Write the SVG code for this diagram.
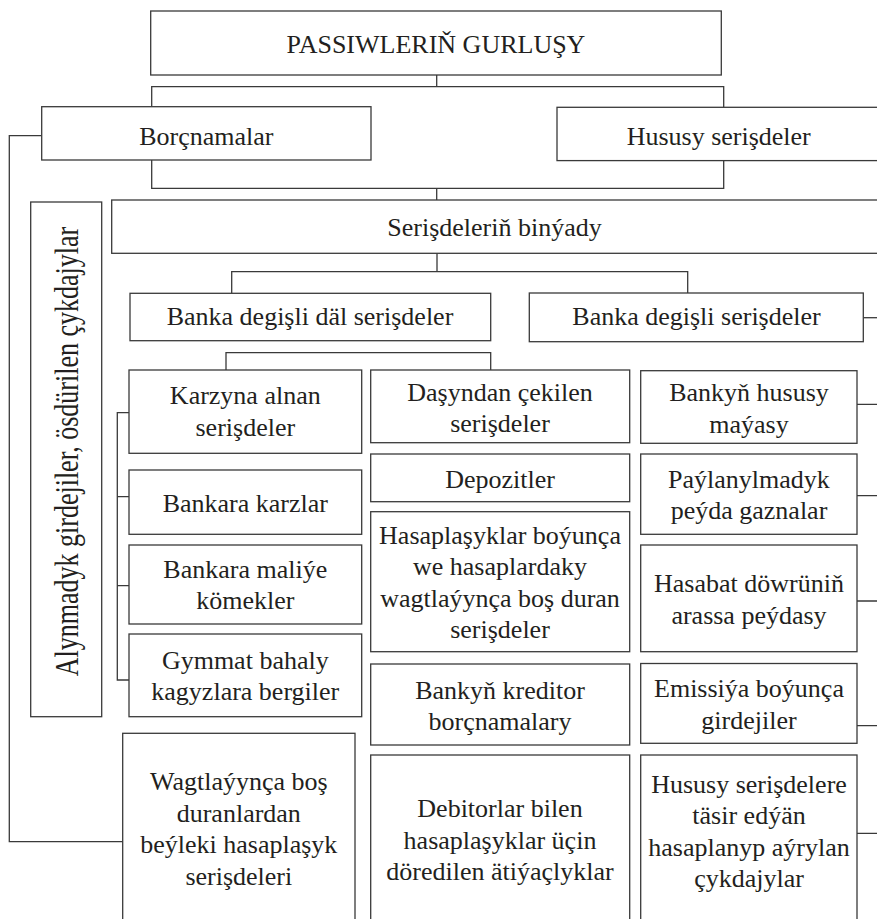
<svg xmlns="http://www.w3.org/2000/svg" width="877" height="919" viewBox="0 0 877 919">
<style>
rect{fill:#fff;stroke:#3a3a3a;stroke-width:1.3}
.c{fill:none;stroke:#3a3a3a;stroke-width:1.3}
</style>
<rect x="0" y="0" width="877" height="919" style="stroke:none"/>
<g id="connectors">
<path class="c" d="M436.7 75V86.7M151.7 106.7V86.7H723.7V107.3"/>
<path class="c" d="M151.7 160V188.3H723.7V160.7M436.7 188.3V200"/>
<path class="c" d="M437 253.3V271.7M231.7 293.3V271.7H687.7V293"/>
<path class="c" d="M226 370V352.7H490.7V370"/>
<path class="c" d="M863.3 317.7H877"/>
<path class="c" d="M857 404.3H877M857 495.7H877M857 601H877M857 725.7H877M857 833.3H877"/>
<path class="c" d="M129 412.7H117.3V680H129M117.3 496.7H129M117.3 585.7H129"/>
<path class="c" d="M41.7 135.7H9.3V841.7H122.7"/>
</g>
<g font-family="Liberation Serif" font-size="26" fill="#231f20" text-anchor="middle">
<g id="n-top"><rect x="150.7" y="11" width="570.6" height="64"/><text x="436" y="53.3">PASSIWLERIŇ GURLUŞY</text></g>
<g id="n-borc"><rect x="41.7" y="106.7" width="329.3" height="53.3"/><text x="206.3" y="145">Borçnamalar</text></g>
<g id="n-husus"><rect x="557" y="107.3" width="330" height="53.3"/><text x="718.7" y="145">Hususy serişdeler</text></g>
<g id="n-binyad"><rect x="111.7" y="200" width="775" height="53.3"/><text x="494.5" y="236">Serişdeleriň binýady</text></g>
<g id="n-alynmadyk"><rect x="30.7" y="202" width="71" height="514.7"/><text transform="translate(78.3 451.5) rotate(-90) scale(1 1.3)">Alynmadyk girdejiler, ösdürilen çykdajylar</text></g>
<g id="n-dal"><rect x="130" y="293.3" width="360.7" height="47.4"/><text x="310" y="324.5">Banka degişli däl serişdeler</text></g>
<g id="n-degisli"><rect x="529.3" y="293" width="334" height="48.7"/><text x="696.5" y="325">Banka degişli serişdeler</text></g>
<g id="n-karzyna"><rect x="129" y="370" width="232.7" height="83.3"/><text x="245.3" y="404">Karzyna alnan</text><text x="245.3" y="435.5">serişdeler</text></g>
<g id="n-karzlar"><rect x="129" y="470" width="232.7" height="64.3"/><text x="245.3" y="511.5">Bankara karzlar</text></g>
<g id="n-maliye"><rect x="129" y="545" width="232.7" height="79"/><text x="245.3" y="577.5">Bankara maliýe</text><text x="245.3" y="609">kömekler</text></g>
<g id="n-gymmat"><rect x="129" y="634" width="232.7" height="82.7"/><text x="245.3" y="668.5">Gymmat bahaly</text><text x="245.3" y="700">kagyzlara bergiler</text></g>
<g id="n-wagt"><rect x="122.7" y="733.3" width="232.3" height="200"/><text x="238.8" y="790">Wagtlaýynça boş</text><text x="238.8" y="821.5">duranlardan</text><text x="238.8" y="853">beýleki hasaplaşyk</text><text x="238.8" y="884.5">serişdeleri</text></g>
<g id="n-dasyndan"><rect x="370.7" y="370" width="259" height="72.7"/><text x="500" y="400.5">Daşyndan çekilen</text><text x="500" y="432">serişdeler</text></g>
<g id="n-depozit"><rect x="370.7" y="454" width="259" height="47.7"/><text x="500" y="488">Depozitler</text></g>
<g id="n-hasaplasyk"><rect x="370.7" y="511.7" width="259" height="140"/><text x="500" y="543.5">Hasaplaşyklar boýunça</text><text x="500" y="575">we hasaplardaky</text><text x="500" y="606.5">wagtlaýynça boş duran</text><text x="500" y="638">serişdeler</text></g>
<g id="n-kreditor"><rect x="370.7" y="664" width="259" height="81"/><text x="500" y="698.5">Bankyň kreditor</text><text x="500" y="730">borçnamalary</text></g>
<g id="n-debitor"><rect x="370.7" y="755" width="259" height="200"/><text x="500" y="817">Debitorlar bilen</text><text x="500" y="848.5">hasaplaşyklar üçin</text><text x="500" y="880">döredilen ätiýaçlyklar</text></g>
<g id="n-maya"><rect x="640.7" y="370.7" width="216.3" height="72.6"/><text x="749" y="401">Bankyň hususy</text><text x="749" y="432.5">maýasy</text></g>
<g id="n-paylan"><rect x="640.7" y="454" width="216.3" height="80.3"/><text x="749" y="487.5">Paýlanylmadyk</text><text x="749" y="519">peýda gaznalar</text></g>
<g id="n-hasabat"><rect x="640.7" y="545" width="216.3" height="106.7"/><text x="749" y="592">Hasabat döwrüniň</text><text x="749" y="623.5">arassa peýdasy</text></g>
<g id="n-emissiya"><rect x="640.7" y="663.5" width="216.3" height="79.8"/><text x="749" y="697">Emissiýa boýunça</text><text x="749" y="728.5">girdejiler</text></g>
<g id="n-tasir"><rect x="640.7" y="755" width="216.3" height="200"/><text x="749" y="793">Hususy serişdelere</text><text x="749" y="824">täsir edýän</text><text x="749" y="855.5">hasaplanyp aýrylan</text><text x="749" y="887">çykdajylar</text></g>
</g>
</svg>
